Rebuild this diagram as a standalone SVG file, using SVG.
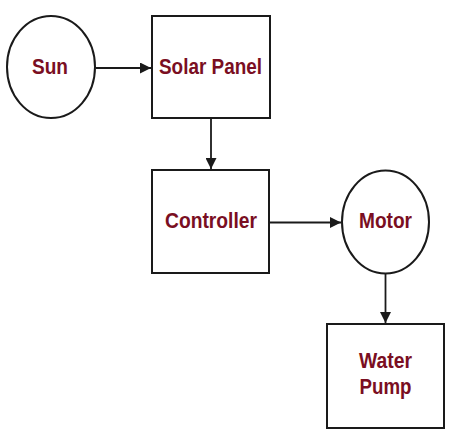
<svg xmlns="http://www.w3.org/2000/svg" width="454" height="440" viewBox="0 0 454 440">
<style>
.shape{fill:#fff;stroke:#1a1a1a;stroke-width:2}
.lbl{font-family:"Liberation Sans",Arial,sans-serif;font-weight:bold;font-size:22px;fill:#7a0e22;text-anchor:middle}
.edge{stroke:#1a1a1a;stroke-width:1.8;fill:none;marker-end:url(#arr)}
</style>
<defs>
<marker id="arr" viewBox="0 0 10 10" refX="10" refY="5" markerWidth="13" markerHeight="11" markerUnits="userSpaceOnUse" orient="auto">
<path d="M0,0 L10,5 L0,10 z" fill="#1a1a1a"/>
</marker>
</defs>
<rect width="454" height="440" fill="#fff"/>
<g id="connectors">
<line class="edge" x1="96" y1="68" x2="151" y2="68"/>
<line class="edge" x1="211" y1="118" x2="211" y2="169"/>
<line class="edge" x1="270" y1="222.5" x2="341" y2="222.5"/>
<line class="edge" x1="385.5" y1="274" x2="385.5" y2="323"/>
</g>
<g id="sun">
<ellipse class="shape" cx="51" cy="67" rx="44" ry="51"/>
<text class="lbl" x="50" y="74" textLength="36" lengthAdjust="spacingAndGlyphs">Sun</text>
</g>
<g id="solar-panel">
<rect class="shape" x="152" y="16" width="118" height="102"/>
<text class="lbl" x="210.5" y="74" textLength="103" lengthAdjust="spacingAndGlyphs">Solar Panel</text>
</g>
<g id="controller">
<rect class="shape" x="152" y="170" width="117" height="103"/>
<text class="lbl" x="211" y="228" textLength="92" lengthAdjust="spacingAndGlyphs">Controller</text>
</g>
<g id="motor">
<ellipse class="shape" cx="385.5" cy="222" rx="43.5" ry="51.5"/>
<text class="lbl" x="385.5" y="228" textLength="53" lengthAdjust="spacingAndGlyphs">Motor</text>
</g>
<g id="water-pump">
<rect class="shape" x="327" y="324" width="117" height="104"/>
<text class="lbl" x="385.5" y="368" textLength="53" lengthAdjust="spacingAndGlyphs">Water</text>
<text class="lbl" x="385.5" y="394" textLength="52" lengthAdjust="spacingAndGlyphs">Pump</text>
</g>
</svg>
